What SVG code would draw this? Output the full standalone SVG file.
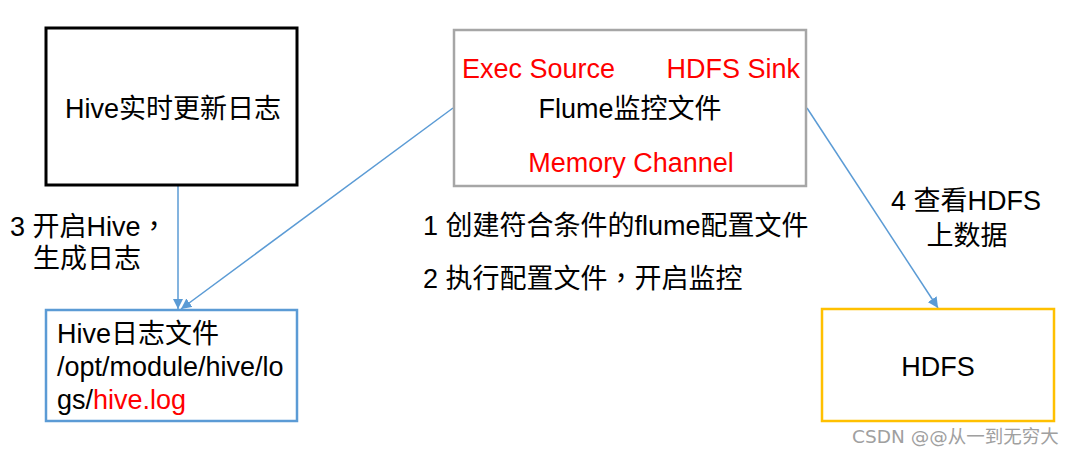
<svg xmlns="http://www.w3.org/2000/svg" width="1075" height="454" viewBox="0 0 1075 454">
<defs>
<style>
text{font-family:"Liberation Sans","Noto Sans CJK SC",sans-serif;font-size:27px;fill:#000}
.red{fill:#ff0000}
.cm{font-family:"Noto Sans CJK TC",sans-serif}
.box{fill:#fff}
.conn{stroke:#5b9bd5;stroke-width:1.5;fill:none}
.wm{font-family:"DejaVu Sans","Noto Sans CJK SC",sans-serif;font-size:18.5px;fill:#a0a0a0}
</style>
<marker id="ah" viewBox="0 0 10 10" refX="10" refY="5" markerWidth="7" markerHeight="7" orient="auto" markerUnits="strokeWidth">
<path d="M0,0 L10,5 L0,10 z" fill="#5b9bd5"/>
</marker>
</defs>
<rect width="1075" height="454" fill="#fff"/>
<g id="connectors">
<line class="conn" x1="178" y1="186" x2="178" y2="309" marker-end="url(#ah)"/>
<line class="conn" x1="453" y1="108" x2="181" y2="309" marker-end="url(#ah)"/>
<line class="conn" x1="807" y1="108" x2="938" y2="308" marker-end="url(#ah)"/>
</g>
<g id="hive-realtime">
<rect class="box" x="46" y="28" width="251" height="157" stroke="#000" stroke-width="3"/>
<text x="173" y="118" text-anchor="middle">Hive实时更新日志</text>
</g>
<g id="flume">
<rect class="box" x="454" y="30" width="352" height="156" stroke="#a6a6a6" stroke-width="2.5"/>
<text class="red" x="462" y="78">Exec Source</text>
<text class="red" x="800" y="78" text-anchor="end">HDFS Sink</text>
<text x="630" y="118" text-anchor="middle">Flume监控文件</text>
<text class="red" x="631" y="172" text-anchor="middle">Memory Channel</text>
</g>
<g id="hive-log">
<rect class="box" x="46" y="310" width="251" height="111" stroke="#5b9bd5" stroke-width="2.5"/>
<text x="57" y="343">Hive日志文件</text>
<text x="57" y="376">/opt/module/hive/lo</text>
<text x="57" y="409">gs/<tspan class="red">hive.log</tspan></text>
</g>
<g id="hdfs">
<rect class="box" x="822" y="309" width="232" height="112" stroke="#ffc000" stroke-width="2.5"/>
<text x="938" y="376" text-anchor="middle">HDFS</text>
</g>
<g id="labels">
<text x="10" y="236">3 开启Hive<tspan class="cm">，</tspan></text>
<text x="33" y="268">生成日志</text>
<text x="423" y="235">1 创建符合条件的flume配置文件</text>
<text x="423" y="288">2 执行配置文件<tspan class="cm">，</tspan>开启监控</text>
<text x="891" y="210">4 查看HDFS</text>
<text x="967" y="245" text-anchor="middle">上数据</text>
</g>
<text class="wm" x="852" y="443">CSDN @@从一到无穷大</text>
</svg>
